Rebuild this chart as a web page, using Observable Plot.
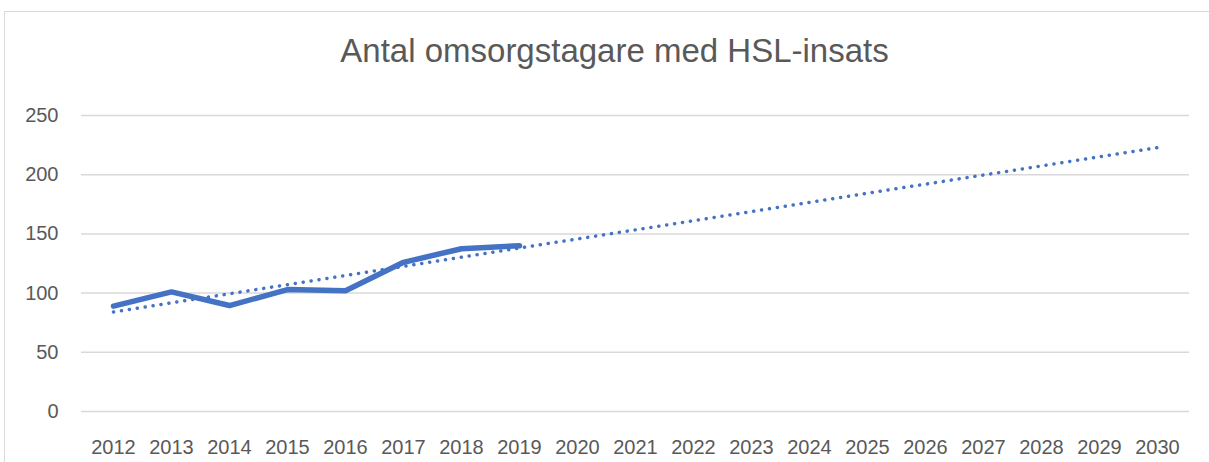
<!DOCTYPE html>
<html>
<head>
<meta charset="utf-8">
<script src="https://cdn.jsdelivr.net/npm/d3@7"></script>
<script src="https://cdn.jsdelivr.net/npm/@observablehq/plot@0.6"></script>
<style>
  html, body { margin: 0; padding: 0; background: #fff; }
  #wrap { position: relative; width: 1209px; height: 462px; overflow: hidden; }
  #border { position: absolute; left: 4px; top: 11px; width: 1300px; height: 500px;
            border-left: 1px solid #d9d9d9; border-top: 1px solid #d9d9d9; }
  #chart { position: absolute; left: 0; top: 0; }
</style>
</head>
<body>
<div id="wrap"><div id="border"></div><div id="chart"></div></div>
<script>
const title = "Antal omsorgstagare med HSL-insats";
const years = ["2012","2013","2014","2015","2016","2017","2018","2019","2020","2021","2022","2023","2024","2025","2026","2027","2028","2029","2030"];
const actualYears = ["2012","2013","2014","2015","2016","2017","2018","2019"];
const actualValues = [89, 101, 89.5, 103, 102, 126, 137.5, 140];
const yTicks = [0, 50, 100, 150, 200, 250];

// Linear trendline (least squares) over the actual data, extended to 2030
const xs = actualValues.map((_, i) => i);
const mx = d3.mean(xs), my = d3.mean(actualValues);
const slope = d3.sum(xs, (x, i) => (x - mx) * (actualValues[i] - my)) / d3.sum(xs, x => (x - mx) ** 2);
const intercept = my - slope * mx;
const trend = years.map((y, i) => ({year: y, value: intercept + slope * i}));
const actual = actualYears.map((y, i) => ({year: y, value: actualValues[i]}));

const font = "'Liberation Sans', sans-serif";
const chart = Plot.plot({
  width: 1209,
  height: 462,
  marginTop: 115,
  marginBottom: 51,
  marginLeft: 81,
  marginRight: 20,
  style: {fontFamily: font, fontSize: "20px", color: "#595959", background: "transparent"},
  x: {type: "point", domain: years, padding: 0.5, label: null, tickSize: 0, tickPadding: 28},
  y: {domain: [0, 250], ticks: yTicks, label: null, tickSize: 0, tickPadding: 23},
  marks: [
    Plot.ruleY(yTicks, {stroke: "#d9d9d9", strokeWidth: 1.5}),
    Plot.line(trend, {x: "year", y: "value", stroke: "#4472C4", strokeWidth: 3.5,
      strokeDasharray: "0.1 7.9", strokeLinecap: "round"}),
    Plot.line(actual, {x: "year", y: "value", stroke: "#4472C4", strokeWidth: 5.5,
      strokeLinecap: "round", strokeLinejoin: "round"}),
    Plot.text([title], {frameAnchor: "top", dy: -77, dx: -21, text: d => d, fontSize: 33,
      fill: "#595959", fontFamily: font})
  ]
});
document.getElementById("chart").appendChild(chart);
</script>
</body>
</html>
